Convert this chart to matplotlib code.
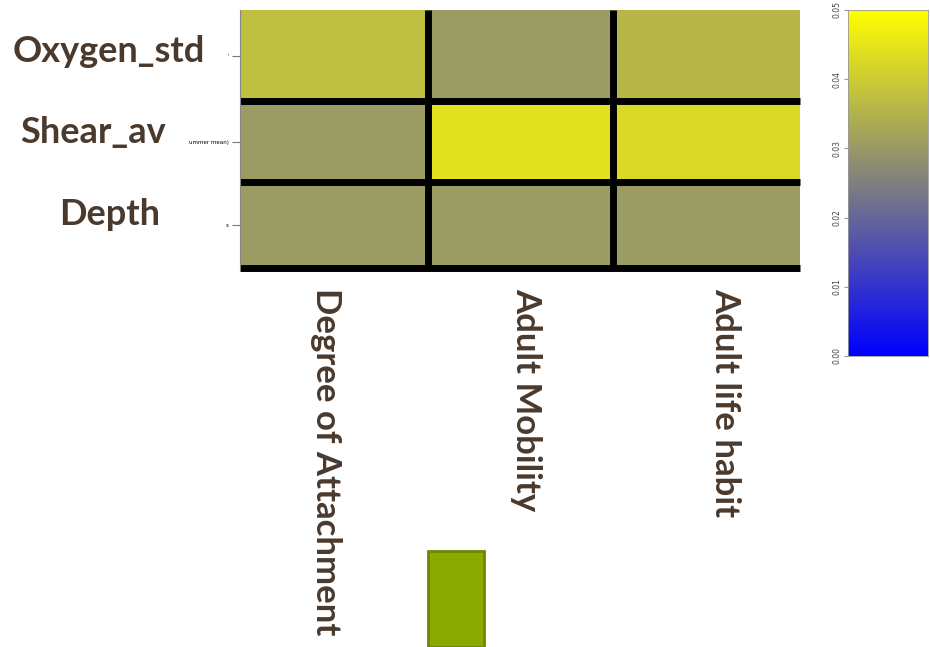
import numpy as np
import matplotlib
matplotlib.use("Agg")
import matplotlib.pyplot as plt
from matplotlib.colors import LinearSegmentedColormap
from matplotlib.patches import Rectangle

# données
lignes = ["Oxygen_std", "Shear_av", "Depth"]
petites_etiquettes = ["'", "ummer mean)", "s"]
colonnes = ["Degree of Attachment", "Adult Mobility", "Adult life habit"]
valeurs = np.array([
    [0.0372, 0.0303, 0.0357],
    [0.0303, 0.0440, 0.0425],
    [0.0303, 0.0303, 0.0303],
])
ticks_barre = [0.00, 0.01, 0.02, 0.03, 0.04, 0.05]

brun = "#4a3a2e"
cmap = LinearSegmentedColormap.from_list("bgy", ["#0000ff", "#808080", "#ffff00"])

fig = plt.figure(figsize=(9.3, 6.47), dpi=100)

# heatmap
ax = fig.add_axes([0.258, 0.5858, 0.602, 0.3988])
x_bords = [0, 1.006, 2.0, 3.0]
y_bords = [0, 0.995, 1.94, 3.0]
ax.pcolormesh(x_bords, y_bords, valeurs[::-1], cmap=cmap, vmin=0, vmax=0.05)
for y in y_bords[:3]:
    ax.axhline(y, color="black", lw=5, clip_on=False, solid_capstyle="butt")
for x in x_bords[1:3]:
    ax.axvline(x, color="black", lw=5, solid_capstyle="butt")
ax.set_xlim(0, 3)
ax.set_ylim(0, 3)
centres_y = [(y_bords[i] + y_bords[i + 1]) / 2 for i in range(3)][::-1]
ax.set_yticks(centres_y)
ax.set_yticklabels(petites_etiquettes, fontsize=4)
ax.tick_params(axis="y", length=6, color="#777777", width=0.8, pad=2)
ax.set_xticks([])
for s in ["top", "right", "bottom"]:
    ax.spines[s].set_visible(False)
ax.spines["left"].set_color("#888888")
ax.spines["left"].set_linewidth(0.8)

# grandes étiquettes des lignes
pos_lignes = [(109, 52), (93, 133), (110, 215)]
for nom, (px, py) in zip(lignes, pos_lignes):
    fig.text(px / 930, 1 - py / 647, nom, ha="center", va="center",
             fontsize=26, fontweight="bold", color=brun, family="Lato")

# étiquettes des colonnes (verticales)
pos_colonnes = [(326, 288), (526, 288), (725, 288)]
for nom, (px, py) in zip(colonnes, pos_colonnes):
    fig.text(px / 930, 1 - py / 647, nom, ha="center", va="top", rotation=270,
             fontsize=25, fontweight="bold", color=brun, family="Lato")

# barre de couleur
cax = fig.add_axes([0.9118, 0.4498, 0.086, 0.5348])
grad = np.linspace(0, 0.05, 256).reshape(-1, 1)
cax.imshow(grad, aspect="auto", cmap=cmap, origin="lower",
           extent=[0, 1, 0, 0.05], vmin=0, vmax=0.05)
cax.set_xticks([])
cax.set_yticks(ticks_barre)
cax.set_yticklabels(["%.2f" % t for t in ticks_barre], rotation=90,
                    fontsize=5.5, color="#444444", va="center")
cax.tick_params(axis="y", length=3, color="#999999", pad=2)
for s in cax.spines.values():
    s.set_color("#999999")
    s.set_linewidth(0.6)

# rectangle vert
fig.patches.append(Rectangle((428 / 930, 0), 56 / 930, 96 / 647,
                             transform=fig.transFigure, facecolor="#8aaa00",
                             edgecolor="#6e8800", lw=2))

fig.savefig("out.png", dpi=100)
